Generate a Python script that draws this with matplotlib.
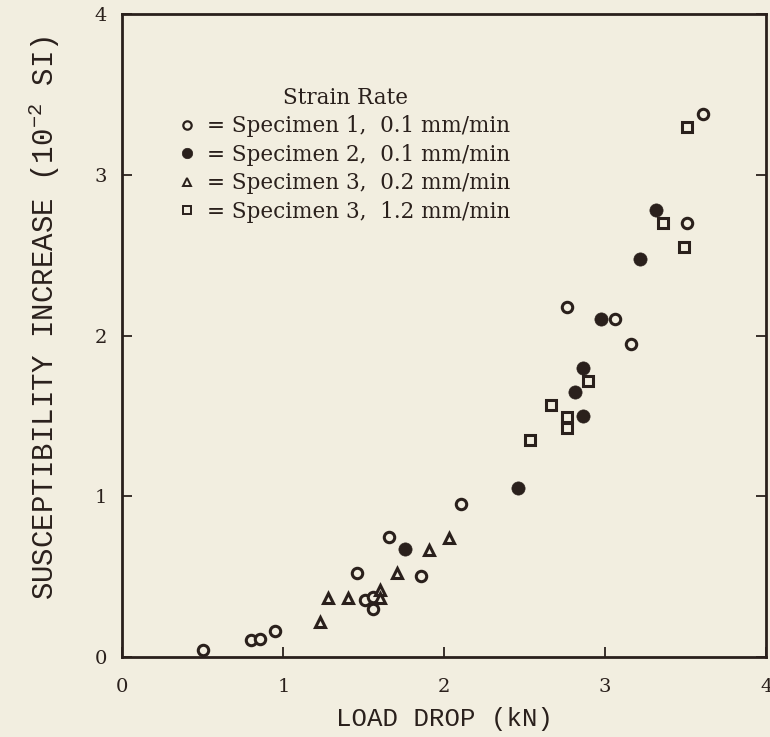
import matplotlib
matplotlib.use("Agg")
import matplotlib.pyplot as plt
from matplotlib.lines import Line2D

# ---- data (load drop kN, susceptibility increase 1e-2 SI) ----
spec1_x = [0.50, 0.80, 0.855, 0.95, 1.455, 1.51, 1.555, 1.555, 1.655, 1.855, 2.105, 2.76, 3.06, 3.16, 3.51, 3.61]
spec1_y = [0.045, 0.105, 0.115, 0.165, 0.525, 0.355, 0.375, 0.30, 0.745, 0.505, 0.95, 2.18, 2.10, 1.95, 2.70, 3.38]

spec2_x = [1.755, 2.455, 2.81, 2.86, 2.86, 2.975, 3.215, 3.315]
spec2_y = [0.675, 1.05, 1.65, 1.80, 1.50, 2.10, 2.475, 2.78]

spec3a_x = [1.225, 1.28, 1.40, 1.60, 1.60, 1.705, 1.905, 2.03]
spec3a_y = [0.215, 0.365, 0.365, 0.42, 0.37, 0.52, 0.665, 0.74]

spec3b_x = [2.535, 2.66, 2.76, 2.76, 2.89, 3.36, 3.49, 3.51]
spec3b_y = [1.35, 1.57, 1.495, 1.425, 1.72, 2.70, 2.55, 3.30]

labels = ["= Specimen 1,  0.1 mm/min",
          "= Specimen 2,  0.1 mm/min",
          "= Specimen 3,  0.2 mm/min",
          "= Specimen 3,  1.2 mm/min"]
legend_title = "Strain Rate"
xticks = [0, 1, 2, 3, 4]
yticks = [0, 1, 2, 3, 4]

BG = "#f2eee0"
INK = "#2a201c"

plt.rcParams['font.family'] = ['DejaVu Serif']

fig = plt.figure(figsize=(7.7, 7.37), dpi=100, facecolor=BG)
ax = fig.add_axes([0.159, 0.1085, 0.836, 0.8725])
ax.set_facecolor(BG)

ms = 7.5
mew = 2.2
ax.plot(spec1_x, spec1_y, 'o', ms=ms, mfc=BG, mec=INK, mew=mew, ls='none')
ax.plot(spec2_x, spec2_y, 'o', ms=ms + 2, mfc=INK, mec=INK, mew=0.5, ls='none')
ax.plot(spec3a_x, spec3a_y, '^', ms=ms, mfc=BG, mec=INK, mew=mew, ls='none')
ax.plot(spec3b_x, spec3b_y, 's', ms=ms - 0.5, mfc=BG, mec=INK, mew=mew, ls='none')

ax.set_xlim(0, 4)
ax.set_ylim(0, 4)
ax.set_xticks(xticks)
ax.set_yticks(yticks)
ax.set_xticklabels([str(t) for t in xticks])
ax.set_yticklabels([str(t) for t in yticks])

for s in ax.spines.values():
    s.set_linewidth(2.0)
    s.set_color(INK)

ax.tick_params(axis='both', direction='in', length=7, width=1.3, color=INK,
               labelsize=14, labelcolor=INK,
               left=True, bottom=True, right=True, top=False)
ax.tick_params(axis='x', pad=15)
ax.tick_params(axis='y', pad=11)

ax.set_xlabel("LOAD DROP (kN)", family='Liberation Mono', fontsize=18.5, color=INK, labelpad=8)
ax.set_ylabel(r"SUSCEPTIBILITY INCREASE (10$^{\mathregular{-2}}$ SI)", family='Liberation Mono',
              fontsize=21, color=INK)
ax.yaxis.set_label_coords(-0.094, 0.528)

handles = [
    Line2D([], [], marker='o', ls='none', ms=6, mfc=BG, mec=INK, mew=1.6),
    Line2D([], [], marker='o', ls='none', ms=7.5, mfc=INK, mec=INK, mew=0.5),
    Line2D([], [], marker='^', ls='none', ms=6, mfc=BG, mec=INK, mew=1.4),
    Line2D([], [], marker='s', ls='none', ms=5.5, mfc=BG, mec=INK, mew=1.4),
]
leg = ax.legend(handles, labels, title=legend_title, loc='upper left',
                bbox_to_anchor=(0.075, 0.900), frameon=False,
                prop={'family': 'DejaVu Serif', 'size': 15.5},
                title_fontproperties={'family': 'DejaVu Serif', 'size': 15.5},
                handlelength=0.7, handletextpad=0.6, labelspacing=0.3,
                borderaxespad=0.0)
for t in leg.get_texts():
    t.set_color(INK)
leg.get_title().set_color(INK)

fig.savefig("out.png", dpi=100, facecolor=BG)
